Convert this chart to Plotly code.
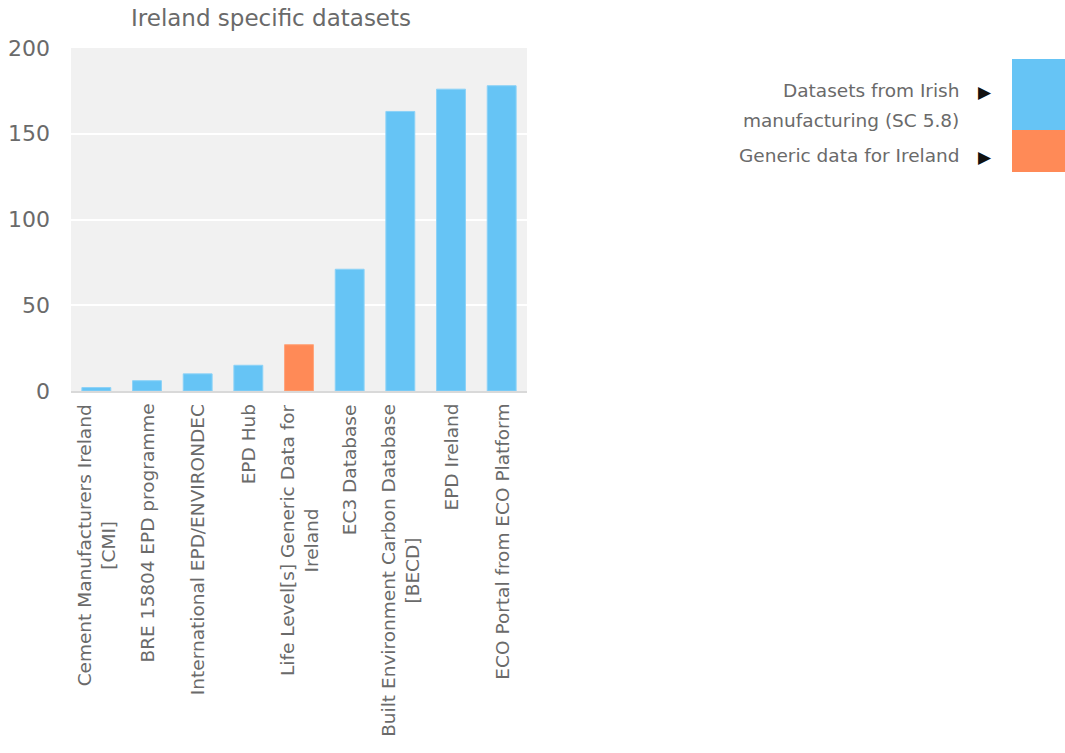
import plotly.graph_objects as go

categories = [
    "Cement Manufacturers Ireland<br>[CMI]",
    "BRE 15804 EPD programme",
    "International EPD/ENVIRONDEC",
    "EPD Hub",
    "Life Level[s] Generic Data for<br>Ireland",
    "EC3 Database",
    "Built Environment Carbon Database<br>[BECD]",
    "EPD Ireland",
    "ECO Portal from ECO Platform",
]
values = [2, 6, 10, 15, 27, 71, 163, 176, 178]
groups = ["irish", "irish", "irish", "irish", "generic", "irish", "irish", "irish", "irish"]

legend_labels = {"irish": ["Datasets from Irish", "manufacturing (SC 5.8)"],
                 "generic": ["Generic data for Ireland"]}
fill_colors = {"irish": "#66C4F5", "generic": "#FF8A57"}
line_colors = {"irish": "#8CD2F7", "generic": "#FFA47C"}
y_ticks = [0, 50, 100, 150, 200]

W, H = 1065, 753
L, R, T, B = 71, 527, 48, 391
FONT = "DejaVu Sans"
TXT = "#6A6A6A"


def px(x):
    return (x - L) / (R - L)


def py(y):
    return (B - y) / (B - T)


fig = go.Figure()
fig.add_trace(go.Bar(
    x=categories, y=values,
    marker=dict(color=[fill_colors[g] for g in groups],
                line=dict(color=[line_colors[g] for g in groups], width=1)),
    width=0.57, showlegend=False, hoverinfo="x+y",
))

shapes = [
    dict(type="rect", xref="paper", yref="paper", x0=px(1012), x1=px(1066), y0=py(130), y1=py(59),
         fillcolor=fill_colors["irish"], line=dict(width=0)),
    dict(type="rect", xref="paper", yref="paper", x0=px(1012), x1=px(1066), y0=py(172), y1=py(130),
         fillcolor=fill_colors["generic"], line=dict(width=0)),
]

annotations = [
    dict(text="Ireland specific datasets", xref="paper", yref="paper", x=px(271), y=py(18),
         xanchor="center", yanchor="middle", showarrow=False, font=dict(family=FONT, size=23, color=TXT)),
]
# category labels, centred multi-line, placed on the category axis
for c in categories:
    annotations.append(dict(text=c, xref="x", yref="paper", x=c, y=py(402), xanchor="center",
                            yanchor="top", textangle=-90, align="center", showarrow=False,
                            font=dict(family=FONT, size=18.5, color=TXT)))
leg_rows = [(legend_labels["irish"][0], 90, True), (legend_labels["irish"][1], 120, False),
            (legend_labels["generic"][0], 155, True)]
for txt, yy, tri in leg_rows:
    annotations.append(dict(text=txt, xref="paper", yref="paper", x=px(961), y=py(yy),
                            xanchor="right", yanchor="middle", showarrow=False,
                            font=dict(family=FONT, size=18.5, color=TXT)))
    if tri:
        annotations.append(dict(text="▶", xref="paper", yref="paper", x=px(985), y=py(yy + 2),
                                xanchor="center", yanchor="middle", showarrow=False,
                                font=dict(family="DejaVu Sans", size=17, color="#111111")))

fig.update_layout(
    width=W, height=H,
    margin=dict(l=L, r=W - R, t=T, b=H - B, pad=0, autoexpand=False),
    paper_bgcolor="white", plot_bgcolor="#F1F1F1",
    font=dict(family=FONT, color=TXT),
    shapes=shapes, annotations=annotations,
    bargap=0.43,
)
fig.update_yaxes(range=[0, 200], tickvals=y_ticks, showgrid=True, gridcolor="white", gridwidth=1.5,
                 zeroline=False, showline=False, ticklabelstandoff=20, automargin=False,
                 tickfont=dict(family=FONT, size=22, color=TXT))
fig.update_xaxes(showticklabels=False, showgrid=False, showline=True, linecolor="#D9D9D9", linewidth=1.5,
                 automargin=False)

fig.write_html("out.html")
